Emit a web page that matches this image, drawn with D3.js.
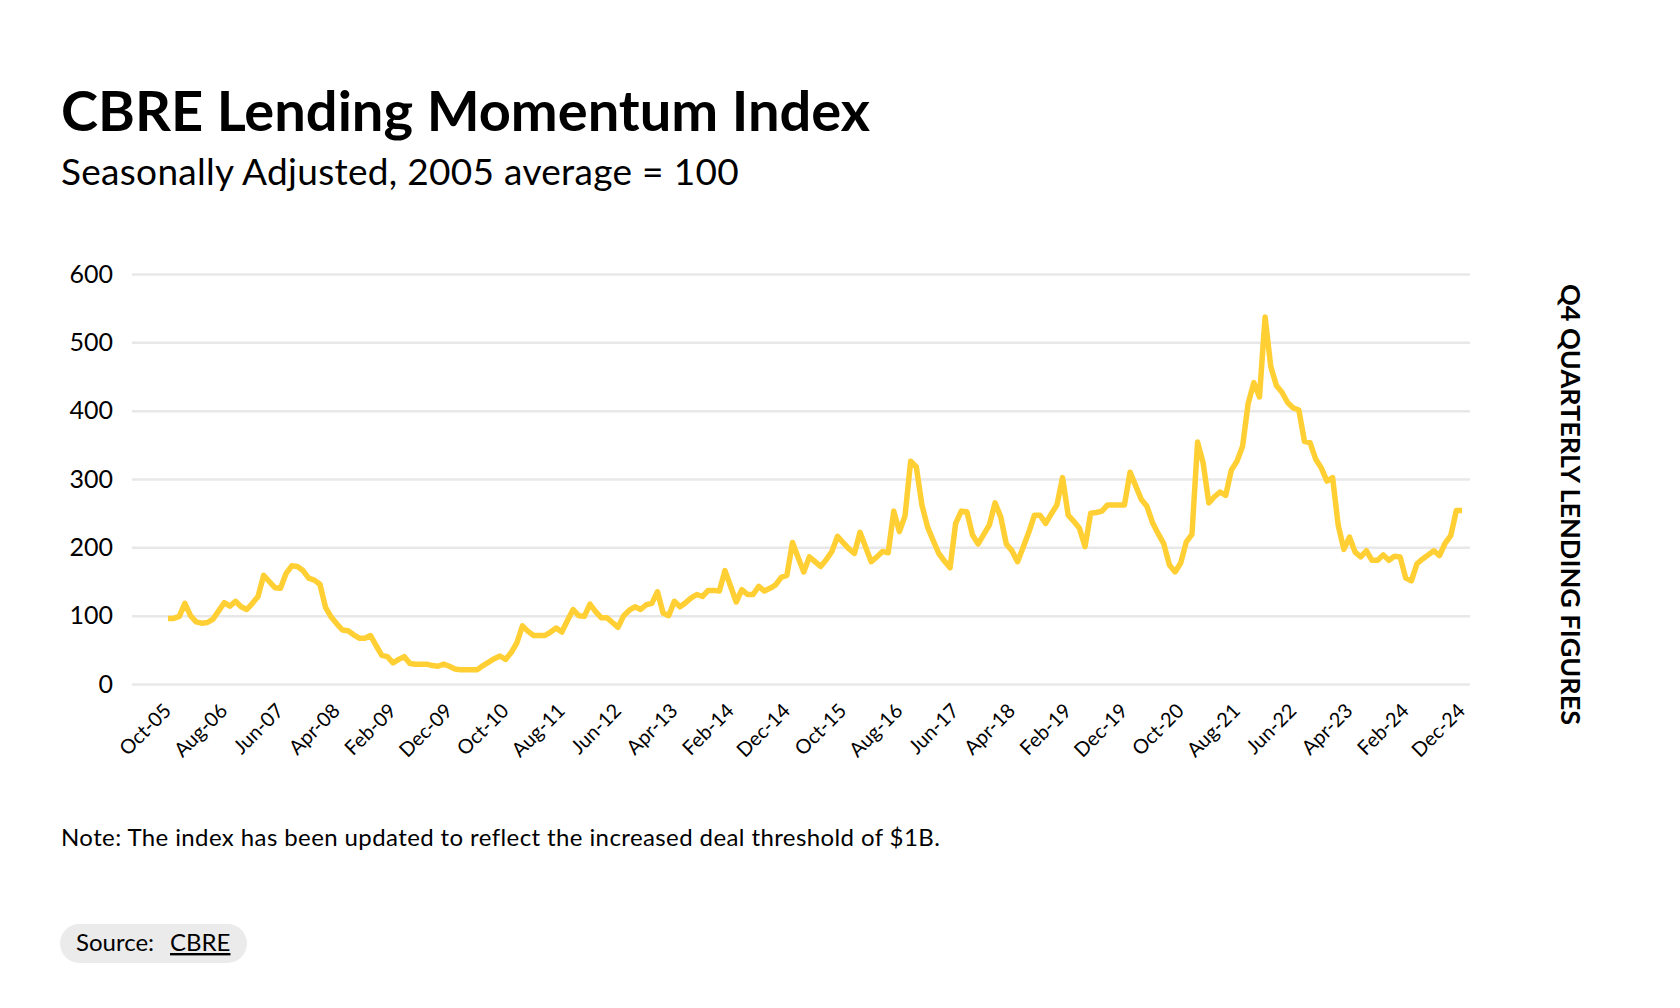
<!DOCTYPE html>
<html>
<head>
<meta charset="utf-8">
<script src="https://cdn.jsdelivr.net/npm/d3@7"></script>
<style>
  body { margin: 0; background: #fff; }
  svg { display: block; font-family: Lato, "Noto Sans", sans-serif; }
</style>
</head>
<body>
<svg id="chart" width="1680" height="1008"></svg>
<script>
// monthly index, Oct-05 .. Dec-24
var months = d3.timeMonth.range(new Date(2005, 9, 1), new Date(2025, 0, 1))
  .map(d3.timeFormat("%b-%y"));

var lendingIndex = [
  96, 96, 99, 118, 100, 91, 89, 90, 95, 107,
  119, 114, 121, 113, 109, 118, 128, 159, 150, 141,
  140, 162, 173, 172, 166, 155, 152, 146, 112, 98,
  88, 79, 78, 72, 67, 67, 71, 56, 42, 40,
  31, 36, 40, 30, 29, 29, 29, 27, 26, 29,
  26, 22, 21, 21, 21, 21, 27, 32, 37, 41,
  36, 46, 60, 85, 77, 71, 71, 71, 76, 82,
  76, 93, 109, 100, 99, 117, 106, 97, 97, 90,
  83, 100, 108, 113, 109, 116, 118, 135, 104, 100,
  121, 113, 119, 126, 131, 128, 137, 137, 136, 166,
  143, 120, 138, 131, 131, 143, 136, 140, 145, 156,
  159, 207, 185, 164, 186, 179, 172, 182, 194, 216,
  207, 198, 191, 222, 200, 179, 186, 194, 192, 253,
  223, 246, 326, 318, 262, 230, 210, 191, 180, 170,
  235, 253, 252, 218, 205, 219, 233, 265, 245, 205,
  195, 179, 200, 222, 247, 247, 235, 249, 262, 302,
  247, 238, 228, 201, 250, 251, 253, 262, 262, 262,
  262, 310, 290, 270, 260, 236, 220, 205, 174, 164,
  177, 208, 219, 354, 323, 265, 274, 281, 276, 313,
  326, 348, 411, 441, 420, 537, 465, 437, 427, 412,
  404, 401, 355, 353, 329, 316, 297, 302, 232, 197,
  215, 193, 186, 195, 181, 181, 189, 181, 187, 186,
  155, 151, 176, 183, 189, 195, 188, 206, 217, 254,
  254
];

var xTickLabels = [
  "Oct-05", "Aug-06", "Jun-07", "Apr-08", "Feb-09", "Dec-09", "Oct-10", "Aug-11",
  "Jun-12", "Apr-13", "Feb-14", "Dec-14", "Oct-15", "Aug-16", "Jun-17", "Apr-18",
  "Feb-19", "Dec-19", "Oct-20", "Aug-21", "Jun-22", "Apr-23", "Feb-24", "Dec-24"
];
var yTicks = [0, 100, 200, 300, 400, 500, 600];

var svg = d3.select("#chart");

var gridLeft = 132, gridRight = 1470;
var x = d3.scalePoint().domain(months).range([168, 1462]);
var y = d3.scaleLinear().domain([0, 600]).range([684, 274]);

// title block
svg.append("text").attr("x", 61).attr("y", 131)
  .attr("font-size", 56).attr("font-weight", 700).attr("fill", "#000")
  .text("CBRE Lending Momentum Index");
svg.append("text").attr("x", 61).attr("y", 185)
  .attr("font-size", 37).attr("letter-spacing", 0.3).attr("fill", "#000")
  .text("Seasonally Adjusted, 2005 average = 100");

// y axis + grid
var yAxis = svg.append("g")
  .attr("transform", "translate(" + gridLeft + ",0)")
  .call(d3.axisLeft(y).tickValues(yTicks).tickSize(-(gridRight - gridLeft)).tickPadding(19));
yAxis.select(".domain").remove();
yAxis.selectAll(".tick line").attr("stroke", "#e8e8e8").attr("stroke-width", 2.5);
yAxis.selectAll(".tick text")
  .attr("font-size", 25).attr("font-family", "Lato, sans-serif").attr("fill", "#000");

// x axis labels
var xAxis = svg.append("g")
  .attr("transform", "translate(0," + y(0) + ")")
  .call(d3.axisBottom(x).tickValues(xTickLabels).tickSize(0));
xAxis.select(".domain").remove();
xAxis.selectAll(".tick text")
  .attr("font-size", 20).attr("font-family", "Lato, sans-serif").attr("fill", "#000")
  .attr("x", 0).attr("y", 0).attr("dy", 0)
  .attr("text-anchor", "end")
  .attr("transform", "translate(4,28) rotate(-45)");

// the line
var line = d3.line()
  .x(function(d, i) { return x(months[i]); })
  .y(function(d) { return y(d); });

svg.append("path")
  .datum(lendingIndex)
  .attr("fill", "none")
  .attr("stroke", "#ffcf33")
  .attr("stroke-width", 5.5)
  .attr("stroke-linejoin", "round")
  .attr("d", line);

// side label
svg.append("text")
  .attr("transform", "translate(1561,284) rotate(90)")
  .attr("font-size", 27).attr("font-weight", 700).attr("fill", "#000")
  .text("Q4 QUARTERLY LENDING FIGURES");

// note
svg.append("text").attr("x", 61).attr("y", 846)
  .attr("font-size", 24).attr("letter-spacing", 0.4).attr("fill", "#000")
  .text("Note: The index has been updated to reflect the increased deal threshold of $1B.");

// source pill
svg.append("rect")
  .attr("x", 60).attr("y", 924).attr("width", 187).attr("height", 39)
  .attr("rx", 19.5).attr("fill", "#ebebeb");
var src = svg.append("text").attr("x", 76).attr("y", 951)
  .attr("font-size", 24).attr("fill", "#000");
src.append("tspan").text("Source:");
src.append("tspan").attr("x", 170).attr("text-decoration", "underline").text("CBRE");
</script>
</body>
</html>
